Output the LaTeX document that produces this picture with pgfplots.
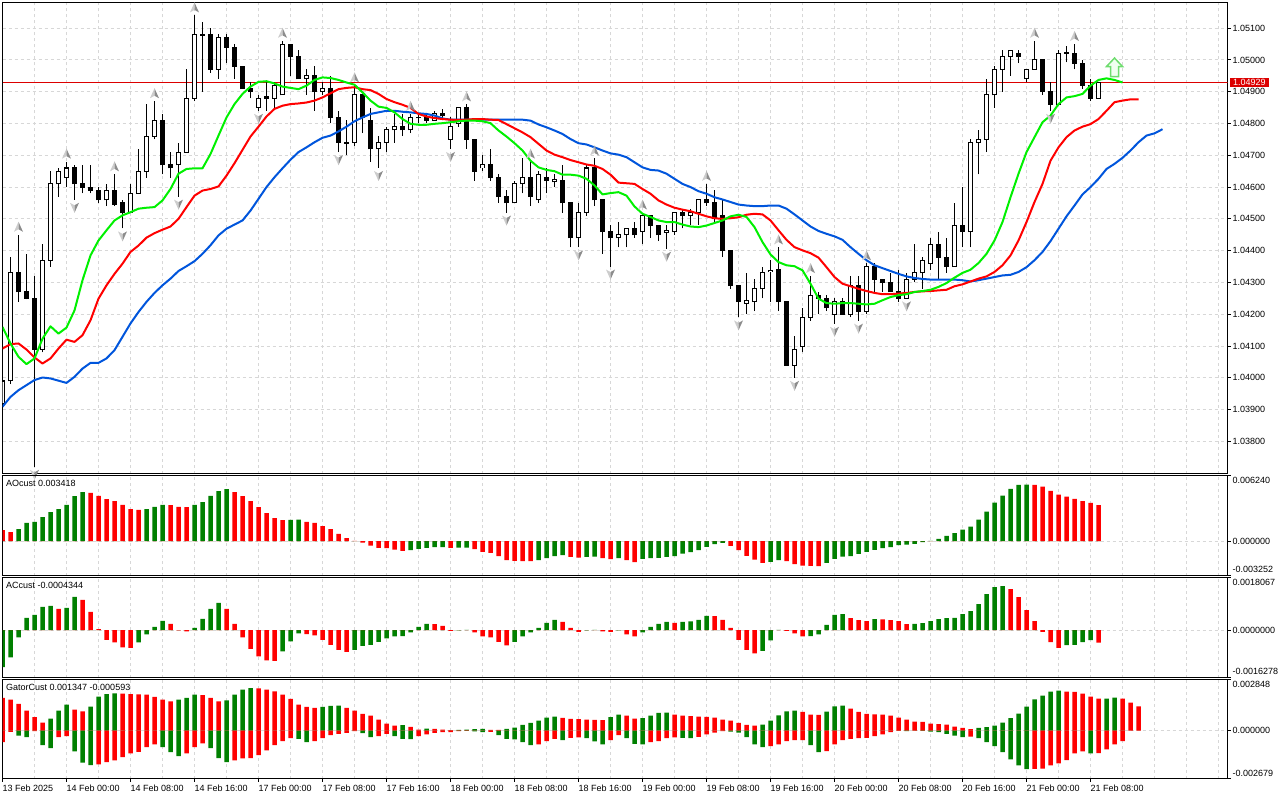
\documentclass[border=0pt]{standalone}
\usepackage{pgfplots}
\pgfplotsset{compat=1.18}
\usepackage{pgfplotstable}
\usepackage{fontspec}
\setmainfont{Liberation Sans}

\definecolor{gridc}{RGB}{215,215,215}
\definecolor{jawc}{RGB}{0,85,220}
\definecolor{teethc}{RGB}{255,0,0}
\definecolor{lipsc}{RGB}{0,240,0}
\definecolor{hgreen}{RGB}{0,128,0}
\definecolor{hred}{RGB}{255,0,0}
\definecolor{bidc}{RGB}{220,0,0}
\definecolor{fracL}{RGB}{205,205,205}
\definecolor{fracD}{RGB}{140,140,140}
\definecolor{sigline}{RGB}{110,220,110}
\definecolor{sigfill}{RGB}{240,255,240}

\newcommand{\mt}{\fontsize{9}{10.5}\selectfont}

\pgfdeclareplotmark{fup}{%
  \pgfsetfillcolor{fracL}%
  \pgfpathmoveto{\pgfqpoint{0pt}{13pt}}\pgfpathlineto{\pgfqpoint{-4.5pt}{3pt}}\pgfpathlineto{\pgfqpoint{0pt}{5.5pt}}\pgfpathclose\pgfusepathqfill
  \pgfsetfillcolor{fracD}%
  \pgfpathmoveto{\pgfqpoint{0pt}{13pt}}\pgfpathlineto{\pgfqpoint{4.5pt}{3pt}}\pgfpathlineto{\pgfqpoint{0pt}{5.5pt}}\pgfpathclose\pgfusepathqfill}
\pgfdeclareplotmark{fdn}{%
  \pgfsetfillcolor{fracL}%
  \pgfpathmoveto{\pgfqpoint{0pt}{-13pt}}\pgfpathlineto{\pgfqpoint{-4.5pt}{-3pt}}\pgfpathlineto{\pgfqpoint{0pt}{-5.5pt}}\pgfpathclose\pgfusepathqfill
  \pgfsetfillcolor{fracD}%
  \pgfpathmoveto{\pgfqpoint{0pt}{-13pt}}\pgfpathlineto{\pgfqpoint{4.5pt}{-3pt}}\pgfpathlineto{\pgfqpoint{0pt}{-5.5pt}}\pgfpathclose\pgfusepathqfill}
\pgfdeclareplotmark{sig}{%
  \pgfsetfillcolor{sigfill}\pgfsetstrokecolor{sigline}\pgfsetlinewidth{1.5pt}%
  \pgfpathmoveto{\pgfqpoint{0pt}{9.5pt}}\pgfpathlineto{\pgfqpoint{8pt}{1pt}}\pgfpathlineto{\pgfqpoint{4pt}{1pt}}%
  \pgfpathlineto{\pgfqpoint{4pt}{-9pt}}\pgfpathlineto{\pgfqpoint{-4pt}{-9pt}}\pgfpathlineto{\pgfqpoint{-4pt}{1pt}}%
  \pgfpathlineto{\pgfqpoint{-8pt}{1pt}}\pgfpathclose\pgfusepathqfillstroke}

\pgfplotsset{
  mtbase/.style={
    scale only axis, width=1225pt, xmin=0, xmax=153.125,
    scaled x ticks=false, scaled y ticks=false,
    axis line style={black, line width=1pt},
    tick style={black, line width=1pt},
    major tick length=3pt, minor tick length=0pt,
    tick align=outside,
    xtick pos=bottom, ytick pos=right, yticklabel pos=right,
    tick label style={font=\mt},
    yticklabel style={inner sep=0pt, xshift=2pt},
    grid style={gridc, line width=1pt, dash pattern=on 3pt off 3pt},
    xmajorgrids, ymajorgrids,
    xtick={0,4,...,152}, xticklabels={},
    xtick style={draw=none},
  },
  hist/.style={ybar, bar width=4.5pt, bar shift=0pt, draw=none, forget plot},
  err/.style 2 args={draw=none, mark=none, forget plot, error bars/.cd, y dir=plus, y explicit, error mark=none,
     error bar style={draw=#1, line width=#2, solid}},
}

\pgfplotstableread{
i O H L C
0 1.0392 1.0400 1.0390 1.0399
1 1.0399 1.0438 1.0398 1.0433
2 1.0433 1.0445 1.0424 1.0427
3 1.04272 1.0439 1.04247 1.04251
4 1.0425 1.0432 1.0372 1.0409
5 1.0409 1.0442 1.0408 1.0437
6 1.0437 1.0465 1.0435 1.0461
7 1.0461 1.0466 1.0457 1.0465
8 1.0463 1.0468 1.0460 1.0466
9 1.0466 1.0467 1.0456 1.0461
10 1.0461 1.0467 1.0458 1.0460
11 1.0460 1.0467 1.0458 1.0459
12 1.0459 1.0460 1.0455 1.0456
13 1.0456 1.0461 1.0454 1.0459
14 1.0459 1.0464 1.0454 1.04545
15 1.0455 1.0456 1.0447 1.0452
16 1.0452 1.0461 1.0452 1.0458
17 1.0458 1.0472 1.0458 1.0465
18 1.0465 1.0486 1.0463 1.0476
19 1.0476 1.0487 1.0475 1.0481
20 1.0481 1.0483 1.0464 1.0467
21 1.0467 1.0471 1.0463 1.0466
22 1.0467 1.0474 1.0457 1.0471
23 1.0471 1.0497 1.0471 1.0488
24 1.0488 1.0514 1.0487 1.0508
25 1.05081 1.0512 1.0490 1.05077
26 1.0508 1.0510 1.0496 1.0497
27 1.0497 1.0508 1.0494 1.0507
28 1.0507 1.0508 1.0499 1.0504
29 1.0504 1.0505 1.0494 1.0498
30 1.0498 1.0498 1.0491 1.0491
31 1.0491 1.0493 1.0488 1.0490
32 1.0485 1.0489 1.0484 1.0488
33 1.04884 1.0493 1.0484 1.04880
34 1.0488 1.0493 1.0485 1.0492
35 1.0489 1.0506 1.0489 1.0505
36 1.0505 1.0505 1.0495 1.0501
37 1.0501 1.0503 1.0494 1.0494
38 1.0494 1.0497 1.0489 1.0495
39 1.0495 1.0498 1.0484 1.0490
40 1.0490 1.0493 1.0489 1.0491
41 1.0491 1.0495 1.0480 1.0482
42 1.0482 1.0484 1.0471 1.0474
43 1.04741 1.0481 1.0470 1.04738
44 1.0474 1.0492 1.0473 1.0489
45 1.0489 1.0489 1.0477 1.0482
46 1.0481 1.0485 1.0468 1.0472
47 1.0472 1.0476 1.0466 1.0474
48 1.0474 1.0479 1.0471 1.0478
49 1.0478 1.0483 1.0474 1.0479
50 1.0479 1.0483 1.0476 1.0478
51 1.0478 1.0483 1.0477 1.0482
52 1.04820 1.0483 1.0480 1.04818
53 1.0482 1.0483 1.0480 1.0481
54 1.0481 1.0484 1.0481 1.0483
55 1.04830 1.04846 1.0481 1.04826
56 1.0475 1.0482 1.0472 1.0479
57 1.0480 1.0485 1.0479 1.0485
58 1.0485 1.0486 1.0472 1.0475
59 1.0475 1.0475 1.0462 1.0465
60 1.0466 1.0470 1.0465 1.0467
61 1.0467 1.0472 1.0462 1.0463
62 1.0463 1.0464 1.0455 1.0457
63 1.0457 1.0459 1.0452 1.0455
64 1.0455 1.0462 1.0455 1.0461
65 1.0461 1.0469 1.0458 1.0463
66 1.0463 1.0468 1.0454 1.0457
67 1.0456 1.0465 1.0455 1.0464
68 1.0463 1.0466 1.0458 1.0462
69 1.04616 1.0464 1.0460 1.04623
70 1.0462 1.0467 1.0452 1.0455
71 1.0455 1.0455 1.0441 1.0444
72 1.0444 1.0455 1.0441 1.0452
73 1.0452 1.0467 1.0451 1.0466
74 1.0466 1.0469 1.0454 1.0456
75 1.0456 1.0456 1.0439 1.0446
76 1.0446 1.0448 1.0435 1.0444
77 1.0444 1.0449 1.0441 1.0445
78 1.0445 1.0447 1.0441 1.0447
79 1.0447 1.0449 1.0444 1.0445
80 1.0446 1.0452 1.0442 1.0451
81 1.0451 1.0451 1.0444 1.0448
82 1.0448 1.0448 1.0443 1.0445
83 1.04458 1.0448 1.04406 1.04464
84 1.0446 1.0452 1.0445 1.0452
85 1.0452 1.0453 1.0447 1.0451
86 1.0451 1.0453 1.0448 1.0452
87 1.0452 1.0456 1.0448 1.0456
88 1.0456 1.0461 1.0454 1.0455
89 1.0455 1.0459 1.0449 1.0450
90 1.0451 1.0456 1.0438 1.0440
91 1.0440 1.0440 1.0428 1.0429
92 1.0429 1.0429 1.0419 1.0424
93 1.04235 1.0433 1.0420 1.04244
94 1.0424 1.0431 1.0421 1.0428
95 1.0428 1.0435 1.0425 1.0433
96 1.04335 1.0437 1.0424 1.04339
97 1.0434 1.0441 1.0421 1.0424
98 1.0424 1.0424 1.0404 1.0404
99 1.0404 1.0413 1.0400 1.0409
100 1.0410 1.0422 1.0408 1.0419
101 1.0419 1.0432 1.0418 1.0426
102 1.0426 1.0427 1.0420 1.0425
103 1.0425 1.0426 1.0421 1.0422
104 1.0420 1.0425 1.0417 1.0424
105 1.0424 1.0425 1.0420 1.0420
106 1.0420 1.0432 1.0419 1.0429
107 1.0429 1.0432 1.0418 1.0421
108 1.0421 1.0436 1.0420 1.0435
109 1.0435 1.0436 1.0427 1.0431
110 1.0431 1.0431 1.0427 1.0430
111 1.0430 1.0433 1.0427 1.0427
112 1.0427 1.0434 1.0424 1.0425
113 1.0425 1.0433 1.0425 1.0431
114 1.0431 1.0442 1.0430 1.0433
115 1.0433 1.0438 1.0428 1.0437
116 1.0436 1.0444 1.0434 1.0442
117 1.0442 1.0446 1.0431 1.0438
118 1.0438 1.0444 1.0433 1.0435
119 1.0435 1.0455 1.0435 1.0448
120 1.0448 1.0460 1.0441 1.0446
121 1.0446 1.0475 1.0441 1.0474
122 1.0474 1.0478 1.0464 1.0475
123 1.0475 1.0494 1.0471 1.0489
124 1.0489 1.0498 1.0485 1.0497
125 1.0497 1.0503 1.0490 1.0501
126 1.0501 1.0503 1.0495 1.0503
127 1.0502 1.0503 1.0499 1.0501
128 1.0494 1.0497 1.0493 1.0497
129 1.0497 1.0506 1.0497 1.0500
130 1.0500 1.0500 1.0489 1.0490
131 1.0490 1.0493 1.0484 1.0486
132 1.0486 1.0503 1.0486 1.0502
133 1.05021 1.05045 1.04992 1.05023
134 1.0502 1.0505 1.0497 1.0499
135 1.0499 1.0500 1.0491 1.0492
136 1.0492 1.0494 1.0487 1.0488
137 1.0488 1.0493 1.0488 1.04929
}\candles

\pgfplotstableread{
i v
0 1.03909
1 1.03940
2 1.03961
3 1.03977
4 1.03993
5 1.04001
6 1.03998
7 1.03991
8 1.03984
9 1.04003
10 1.04029
11 1.04047
12 1.04047
13 1.04061
14 1.04087
15 1.04129
16 1.04171
17 1.04207
18 1.04239
19 1.04267
20 1.04291
21 1.04312
22 1.04336
23 1.04351
24 1.04367
25 1.04390
26 1.04417
27 1.04448
28 1.04469
29 1.04482
30 1.04495
31 1.04526
32 1.04563
33 1.04600
34 1.04631
35 1.04659
36 1.04686
37 1.04710
38 1.04725
39 1.04741
40 1.04755
41 1.04762
42 1.04775
43 1.04790
44 1.04807
45 1.04819
46 1.04830
47 1.04835
48 1.04840
49 1.04840
50 1.04837
51 1.04835
52 1.04832
53 1.04830
54 1.04825
55 1.04816
56 1.04812
57 1.04812
58 1.04812
59 1.04812
60 1.04812
61 1.04812
62 1.04812
63 1.04812
64 1.04812
65 1.04812
66 1.04809
67 1.04797
68 1.04788
69 1.04778
70 1.04767
71 1.04751
72 1.04738
73 1.04734
74 1.04725
75 1.04715
76 1.04706
77 1.04702
78 1.04694
79 1.04678
80 1.04662
81 1.04654
82 1.04652
83 1.04642
84 1.04626
85 1.04610
86 1.04600
87 1.04587
88 1.04579
89 1.04568
90 1.04561
91 1.04553
92 1.04545
93 1.04542
94 1.04540
95 1.04540
96 1.04542
97 1.04542
98 1.04532
99 1.04514
100 1.04495
101 1.04476
102 1.04462
103 1.04453
104 1.04445
105 1.04434
106 1.04411
107 1.04390
108 1.04370
109 1.04354
110 1.04345
111 1.04336
112 1.04327
113 1.04319
114 1.04314
115 1.04311
116 1.04309
117 1.04309
118 1.04309
119 1.04309
120 1.04307
121 1.04303
122 1.04307
123 1.04312
124 1.04317
125 1.04322
126 1.04324
127 1.04333
128 1.04348
129 1.04370
130 1.04396
131 1.04430
132 1.04469
133 1.04508
134 1.04542
135 1.04577
136 1.04600
137 1.04626
138 1.04657
139 1.04673
140 1.04692
141 1.04715
142 1.04741
143 1.04762
144 1.04769
145 1.04782
}\jaw

\pgfplotstableread{
i v
0 1.04092
1 1.04106
2 1.04108
3 1.04089
4 1.04064
5 1.04045
6 1.04061
7 1.04092
8 1.04120
9 1.04113
10 1.04134
11 1.04181
12 1.04249
13 1.04291
14 1.04327
15 1.04359
16 1.04396
17 1.04416
18 1.04441
19 1.04455
20 1.04466
21 1.04476
22 1.04500
23 1.04537
24 1.04573
25 1.04589
26 1.04594
27 1.04602
28 1.04636
29 1.04675
30 1.04717
31 1.04759
32 1.04790
33 1.04822
34 1.04846
35 1.04856
36 1.04861
37 1.04863
38 1.04866
39 1.04872
40 1.04882
41 1.04895
42 1.04908
43 1.04912
44 1.04914
45 1.04908
46 1.04905
47 1.04893
48 1.04877
49 1.04867
50 1.04859
51 1.04849
52 1.04830
53 1.04822
54 1.04817
55 1.04814
56 1.04812
57 1.04811
58 1.04812
59 1.04814
60 1.04814
61 1.04812
62 1.04811
63 1.04798
64 1.04785
65 1.04772
66 1.04757
67 1.04736
68 1.04715
69 1.04702
70 1.04694
71 1.04685
72 1.04678
73 1.04671
74 1.04667
75 1.04657
76 1.04639
77 1.04614
78 1.04612
79 1.04610
80 1.04594
81 1.04579
82 1.04558
83 1.04545
84 1.04535
85 1.04529
86 1.04524
87 1.04516
88 1.04508
89 1.04502
90 1.04500
91 1.04502
92 1.04505
93 1.04513
94 1.04516
95 1.04514
96 1.04495
97 1.04464
98 1.04434
99 1.04411
100 1.04401
101 1.04392
102 1.04378
103 1.04348
104 1.04317
105 1.04296
106 1.04288
107 1.04280
108 1.04273
109 1.04267
110 1.04263
111 1.04263
112 1.04265
113 1.04267
114 1.04270
115 1.04272
116 1.04273
117 1.04275
118 1.04277
119 1.04288
120 1.04294
121 1.04303
122 1.04312
123 1.04319
124 1.04333
125 1.04354
126 1.04385
127 1.04432
128 1.04490
129 1.04553
130 1.04610
131 1.04683
132 1.04725
133 1.04757
134 1.04778
135 1.04790
136 1.04798
137 1.04814
138 1.04840
139 1.04867
140 1.04872
141 1.04876
142 1.04876
}\teeth

\pgfplotstableread{
i v
0 1.04160
1 1.04108
2 1.04066
3 1.04043
4 1.04061
5 1.04123
6 1.04162
7 1.04139
8 1.04158
9 1.04212
10 1.04307
11 1.04385
12 1.04432
13 1.04464
14 1.04495
15 1.04511
16 1.04521
17 1.04532
18 1.04535
19 1.04537
20 1.04558
21 1.04594
22 1.04642
23 1.04657
24 1.04659
25 1.04659
26 1.04704
27 1.04762
28 1.04819
29 1.04861
30 1.04893
31 1.04916
32 1.04931
33 1.04933
34 1.04926
35 1.04916
36 1.04912
37 1.04908
38 1.04919
39 1.04937
40 1.04945
41 1.04943
42 1.04937
43 1.04929
44 1.04922
45 1.04898
46 1.04872
47 1.04853
48 1.04849
49 1.04835
50 1.04814
51 1.04799
52 1.04796
53 1.04796
54 1.04799
55 1.04801
56 1.04804
57 1.04807
58 1.04809
59 1.04809
60 1.04807
61 1.04801
62 1.04778
63 1.04759
64 1.04738
65 1.04715
66 1.04683
67 1.04662
68 1.04654
69 1.04650
70 1.04639
71 1.04639
72 1.04636
73 1.04626
74 1.04605
75 1.04577
76 1.04581
77 1.04584
78 1.04573
79 1.04539
80 1.04516
81 1.04506
82 1.04495
83 1.04490
84 1.04490
85 1.04482
86 1.04476
87 1.04474
88 1.04479
89 1.04487
90 1.04495
91 1.04508
92 1.04513
93 1.04506
94 1.04474
95 1.04427
96 1.04388
97 1.04364
98 1.04354
99 1.04351
100 1.04338
101 1.04296
102 1.04249
103 1.04235
104 1.04233
105 1.04235
106 1.04235
107 1.04233
108 1.04231
109 1.04233
110 1.04244
111 1.04254
112 1.04260
113 1.04263
114 1.04270
115 1.04273
116 1.04277
117 1.04286
118 1.04298
119 1.04315
120 1.04330
121 1.04340
122 1.04361
123 1.04390
124 1.04432
125 1.04490
126 1.04568
127 1.04642
128 1.04710
129 1.04757
130 1.04804
131 1.04825
132 1.04861
133 1.04882
134 1.04886
135 1.04893
136 1.04919
137 1.04937
138 1.04942
139 1.04937
140 1.04929
}\lips

\pgfplotstableread{
i v
2 1.0445
8 1.0468
14 1.0464
19 1.0487
24 1.0514
35 1.0506
44 1.0492
51 1.0483
58 1.0486
66 1.0468
74 1.0469
80 1.0452
88 1.0461
97 1.0441
101 1.0432
108 1.0436
129 1.0506
134 1.0505
}\fracup

\pgfplotstableread{
i v
4 1.0372
9 1.0456
15 1.0447
22 1.0457
32 1.0484
42 1.0471
47 1.0466
56 1.0472
63 1.0452
72 1.0441
76 1.0435
83 1.04406
92 1.0419
99 1.0400
104 1.0417
107 1.0418
113 1.0425
131 1.0484
}\fracdn

\pgfplotstableread{
i v
0 1.04929
153.125 1.04929
}\bid

\pgfplotstableread{
i v c
0 0.001044 0
1 0.000854 0
2 0.001139 1
3 0.001740 1
4 0.001835 1
5 0.002278 1
6 0.002753 1
7 0.003037 1
8 0.003449 1
9 0.004271 1
10 0.004651 1
11 0.004588 0
12 0.004303 0
13 0.003987 0
14 0.003797 0
15 0.003449 0
16 0.003037 0
17 0.002974 0
18 0.003037 1
19 0.003259 1
20 0.003449 1
21 0.003417 0
22 0.003259 0
23 0.003227 0
24 0.003449 1
25 0.003702 1
26 0.004303 1
27 0.004746 1
28 0.004936 1
29 0.004651 0
30 0.004271 0
31 0.003797 0
32 0.003227 0
33 0.002658 0
34 0.002183 0
35 0.001993 0
36 0.002025 1
37 0.002057 1
38 0.001835 0
39 0.001740 0
40 0.001424 0
41 0.001139 0
42 0.000696 0
43 0.000285 0
44 0.000032 0
45 -0.000127 0
46 -0.000411 0
47 -0.000633 0
48 -0.000664 0
49 -0.000791 0
50 -0.000918 0
51 -0.000854 1
52 -0.000728 1
53 -0.000633 1
54 -0.000570 1
55 -0.000554 1
56 -0.000633 0
57 -0.000617 1
58 -0.000601 1
59 -0.000759 0
60 -0.001012 0
61 -0.001107 0
62 -0.001424 0
63 -0.001803 0
64 -0.001867 0
65 -0.001883 0
66 -0.001898 0
67 -0.001803 1
68 -0.001614 1
69 -0.001424 1
70 -0.001329 1
71 -0.001487 0
72 -0.001550 0
73 -0.001487 1
74 -0.001471 1
75 -0.001614 0
76 -0.001709 0
77 -0.001614 1
78 -0.001803 0
79 -0.001993 0
80 -0.001677 1
81 -0.001614 1
82 -0.001582 1
83 -0.001487 1
84 -0.001424 1
85 -0.001171 1
86 -0.001044 1
87 -0.000854 1
88 -0.000538 1
89 -0.000285 1
90 -0.000158 1
91 -0.000443 0
92 -0.000854 0
93 -0.001392 0
94 -0.001740 0
95 -0.002057 0
96 -0.001962 1
97 -0.001803 1
98 -0.001898 0
99 -0.002183 0
100 -0.002310 0
101 -0.002341 0
102 -0.002373 0
103 -0.002057 1
104 -0.001677 1
105 -0.001455 1
106 -0.001424 1
107 -0.001202 1
108 -0.001012 1
109 -0.000823 1
110 -0.000664 1
111 -0.000570 1
112 -0.000380 1
113 -0.000316 1
114 -0.000253 1
115 -0.000095 1
116 0.000032 1
117 0.000221 1
118 0.000506 1
119 0.000759 1
120 0.001107 1
121 0.001392 1
122 0.002057 1
123 0.002816 1
124 0.003670 1
125 0.004335 1
126 0.004967 1
127 0.005347 1
128 0.005363 1
129 0.005347 0
130 0.005189 0
131 0.004778 0
132 0.004430 0
133 0.004240 0
134 0.004018 0
135 0.003797 0
136 0.003639 0
137 0.003418 0
}\ao

\pgfplotstableread{
i v c
0 -0.001271 1
1 -0.000939 1
2 -0.000252 1
3 0.000424 1
4 0.000527 1
5 0.000801 1
6 0.000836 1
7 0.000733 0
8 0.000767 1
9 0.001145 1
10 0.001042 0
11 0.000630 0
12 0.000034 0
13 -0.000332 0
14 -0.000424 0
15 -0.000595 0
16 -0.000607 0
17 -0.000424 1
18 -0.000149 1
19 0.000114 1
20 0.000321 1
21 0.000218 0
22 -0.000011 0
23 -0.000046 0
24 0.000080 1
25 0.000389 1
26 0.000733 1
27 0.000939 1
28 0.000733 0
29 0.000218 0
30 -0.000252 0
31 -0.000641 0
32 -0.000904 0
33 -0.001042 0
34 -0.001053 0
35 -0.000733 1
36 -0.000389 1
37 -0.000114 1
38 -0.000137 0
39 -0.000183 0
40 -0.000332 0
41 -0.000504 0
42 -0.000675 0
43 -0.000744 0
44 -0.000675 1
45 -0.000538 1
46 -0.000504 1
47 -0.000401 1
48 -0.000286 1
49 -0.000218 1
50 -0.000206 1
51 -0.000080 1
52 0.000114 1
53 0.000218 1
54 0.000206 0
55 0.000149 0
56 -0.000023 0
57 -0.000011 1
58 0.000006 1
59 -0.000080 0
60 -0.000218 0
61 -0.000252 0
62 -0.000401 0
63 -0.000527 0
64 -0.000401 1
65 -0.000218 1
66 -0.000080 1
67 0.000080 1
68 0.000252 1
69 0.000355 1
70 0.000286 0
71 0.000080 0
72 -0.000057 0
73 -0.000011 1
74 0.000011 1
75 -0.000046 0
76 -0.000057 0
77 -0.000011 1
78 -0.000149 0
79 -0.000218 0
80 -0.000080 1
81 0.000114 1
82 0.000218 1
83 0.000286 1
84 0.000252 0
85 0.000286 1
86 0.000298 1
87 0.000355 1
88 0.000492 1
89 0.000481 0
90 0.000355 0
91 0.000080 0
92 -0.000332 0
93 -0.000675 0
94 -0.000801 0
95 -0.000710 1
96 -0.000355 1
97 0.000011 1
98 -0.000023 0
99 -0.000114 0
100 -0.000218 0
101 -0.000206 1
102 -0.000149 1
103 0.000183 1
104 0.000527 1
105 0.000550 1
106 0.000412 0
107 0.000343 0
108 0.000309 0
109 0.000378 1
110 0.000366 0
111 0.000343 0
112 0.000309 0
113 0.000206 0
114 0.000218 1
115 0.000240 1
116 0.000309 1
117 0.000378 1
118 0.000412 1
119 0.000424 1
120 0.000550 1
121 0.000653 1
122 0.000893 1
123 0.001236 1
124 0.001477 1
125 0.001511 1
126 0.001408 0
127 0.001133 0
128 0.000687 0
129 0.000309 0
130 -0.000057 0
131 -0.000412 0
132 -0.000607 0
133 -0.000515 1
134 -0.000504 1
135 -0.000412 1
136 -0.000343 1
137 -0.000434 0
}\ac

\pgfplotstableread{
i v c
0 0.001816 0
1 0.001723 0
2 0.001482 0
3 0.001112 0
4 0.000741 0
5 0.000445 0
6 0.000667 1
7 0.001112 1
8 0.001445 1
9 0.001167 0
10 0.001075 0
11 0.001334 1
12 0.001890 1
13 0.002038 1
14 0.002075 1
15 0.002057 0
16 0.002038 0
17 0.002020 0
18 0.002001 0
19 0.001872 0
20 0.001723 0
21 0.001631 0
22 0.001723 1
23 0.001816 1
24 0.002001 1
25 0.001983 0
26 0.001816 0
27 0.001631 0
28 0.001686 1
29 0.002001 1
30 0.002279 1
31 0.002372 1
32 0.002353 0
33 0.002279 0
34 0.002187 0
35 0.002001 0
36 0.001760 0
37 0.001445 0
38 0.001316 0
39 0.001260 0
40 0.001316 1
41 0.001371 1
42 0.001390 1
43 0.001260 0
44 0.001112 0
45 0.000927 0
46 0.000834 0
47 0.000611 0
48 0.000389 0
49 0.000278 0
50 0.000296 1
51 0.000204 0
52 0.000056 0
53 0.000111 1
54 0.000093 0
55 0.000056 0
56 0.000019 0
57 0.000037 1
58 0.000056 1
59 0.000074 1
60 0.000093 1
61 0.000037 0
62 0.000030 0
63 0.000093 1
64 0.000167 1
65 0.000315 1
66 0.000426 1
67 0.000556 1
68 0.000723 1
69 0.000778 1
70 0.000704 0
71 0.000649 0
72 0.000630 0
73 0.000611 0
74 0.000593 0
75 0.000574 0
76 0.000741 1
77 0.000889 1
78 0.000834 0
79 0.000667 0
80 0.000686 1
81 0.000834 1
82 0.000982 1
83 0.001001 1
84 0.000889 0
85 0.000834 0
86 0.000797 0
87 0.000778 0
88 0.000760 0
89 0.000723 0
90 0.000611 0
91 0.000556 0
92 0.000426 0
93 0.000315 0
94 0.000278 0
95 0.000334 1
96 0.000556 1
97 0.000852 1
98 0.001075 1
99 0.001112 1
100 0.001038 0
101 0.000889 0
102 0.000871 0
103 0.001056 1
104 0.001353 1
105 0.001390 1
106 0.001223 0
107 0.001038 0
108 0.000927 0
109 0.000908 0
110 0.000889 0
111 0.000834 0
112 0.000723 0
113 0.000611 0
114 0.000500 0
115 0.000482 0
116 0.000389 0
117 0.000352 0
118 0.000334 0
119 0.000222 0
120 0.000148 0
121 0.000074 0
122 0.000148 1
123 0.000185 1
124 0.000278 1
125 0.000445 1
126 0.000686 1
127 0.000945 1
128 0.001334 1
129 0.001742 1
130 0.001946 1
131 0.002168 1
132 0.002224 1
133 0.002168 0
134 0.002160 0
135 0.002057 0
136 0.001890 0
137 0.001779 0
138 0.001785 1
139 0.001835 1
140 0.001779 0
141 0.001557 0
142 0.001347 0
}\gup

\pgfplotstableread{
i v c
0 -0.000649 0
1 -0.000074 0
2 -0.000278 1
3 -0.000371 1
4 -0.000037 0
5 -0.000815 1
6 -0.000982 1
7 -0.000371 0
8 -0.000315 0
9 -0.001167 1
10 -0.001797 1
11 -0.001927 1
12 -0.001890 0
13 -0.001760 0
14 -0.001668 0
15 -0.001482 0
16 -0.001279 0
17 -0.001186 0
18 -0.000927 0
19 -0.000778 0
20 -0.000927 1
21 -0.001204 1
22 -0.001427 1
23 -0.001279 0
24 -0.000927 0
25 -0.000723 0
26 -0.000982 1
27 -0.001538 1
28 -0.001760 1
29 -0.001668 0
30 -0.001557 0
31 -0.001538 0
32 -0.001371 0
33 -0.001112 0
34 -0.000815 0
35 -0.000593 0
36 -0.000426 0
37 -0.000463 1
38 -0.000649 1
39 -0.000593 0
40 -0.000426 0
41 -0.000259 0
42 -0.000185 0
43 -0.000130 0
44 -0.000037 0
45 -0.000148 1
46 -0.000371 1
47 -0.000315 0
48 -0.000185 0
49 -0.000315 1
50 -0.000463 1
51 -0.000482 1
52 -0.000315 0
53 -0.000222 0
54 -0.000130 0
55 -0.000093 0
56 -0.000090 0
57 -0.000037 0
58 -0.000019 0
59 -0.000041 1
60 -0.000093 1
61 -0.000074 0
62 -0.000259 1
63 -0.000463 1
64 -0.000500 1
65 -0.000649 1
66 -0.000815 1
67 -0.000778 0
68 -0.000593 0
69 -0.000463 0
70 -0.000537 1
71 -0.000408 0
72 -0.000389 0
73 -0.000426 1
74 -0.000611 1
75 -0.000778 1
76 -0.000537 0
77 -0.000259 0
78 -0.000426 1
79 -0.000741 1
80 -0.000778 1
81 -0.000649 0
82 -0.000593 0
83 -0.000426 0
84 -0.000389 0
85 -0.000408 1
86 -0.000426 1
87 -0.000352 0
88 -0.000222 0
89 -0.000111 0
90 -0.000037 0
91 -0.000056 1
92 -0.000111 1
93 -0.000371 1
94 -0.000778 1
95 -0.000927 1
96 -0.000871 0
97 -0.000778 0
98 -0.000593 0
99 -0.000537 0
100 -0.000530 0
101 -0.000815 1
102 -0.001204 1
103 -0.001149 0
104 -0.000778 0
105 -0.000537 0
106 -0.000463 0
107 -0.000426 0
108 -0.000408 0
109 -0.000315 0
110 -0.000222 0
111 -0.000093 0
112 -0.000019 0
113 -0.000037 1
114 -0.000009 0
115 -0.000019 1
116 -0.000056 1
117 -0.000093 1
118 -0.000185 1
119 -0.000278 1
120 -0.000371 1
121 -0.000334 0
122 -0.000426 1
123 -0.000649 1
124 -0.000871 1
125 -0.001204 1
126 -0.001612 1
127 -0.001946 1
128 -0.002150 1
129 -0.002140 0
130 -0.002129 0
131 -0.001946 0
132 -0.001835 0
133 -0.001651 0
134 -0.001279 0
135 -0.001168 0
136 -0.001279 1
137 -0.001268 0
138 -0.001056 0
139 -0.000778 0
140 -0.000593 0
}\gdn

\begin{document}
\begin{tikzpicture}
\useasboundingbox (0pt,0pt) rectangle (1280pt,-800pt);

% ---------------- main price panel ----------------
\begin{axis}[mtbase, at={(2.5pt,-2.5pt)}, anchor=north west, height=471pt,
  clip mode=individual,
  ymin=1.03699, ymax=1.051806,
  ytick={1.038,1.039,1.040,1.041,1.042,1.043,1.044,1.045,1.046,1.047,1.048,1.049,1.050,1.051},
  yticklabels={1.03800,1.03900,1.04000,1.04100,1.04200,1.04300,1.04400,1.04500,1.04600,1.04700,1.04800,1.04900,1.05000,1.05100},
]
\addplot[draw=bidc, line width=1pt, mark=none, forget plot] table[x=i, y=v] {\bid};
\addplot[err={black}{1pt}] table[x=i, y=L, y error plus expr=\thisrow{H}-\thisrow{L}] {\candles};
\addplot[err={black}{5pt}] table[x=i, y expr={min(\thisrow{O},\thisrow{C})-0.0000157}, y error plus expr={abs(\thisrow{C}-\thisrow{O})+0.0000314}] {\candles};
\addplot[err={white}{3pt}] table[x=i, y expr={\thisrow{O}+0.0000157}, y error plus expr={max(\thisrow{C}-\thisrow{O}-0.0000314,0)}] {\candles};
\addplot[jawc, line width=2pt, line join=round, mark=none] table[x=i, y=v] {\jaw};
\addplot[teethc, line width=2pt, line join=round, mark=none] table[x=i, y=v] {\teeth};
\addplot[lipsc, line width=2pt, line join=round, mark=none] table[x=i, y=v] {\lips};
\addplot[only marks, mark=fup] table[x=i, y=v] {\fracup};
\addplot[only marks, mark=fdn] table[x=i, y=v] {\fracdn};
\addplot[only marks, mark=sig] coordinates {(139,1.04976)};
\node[anchor=west, fill=bidc, text=white, font=\mt, inner xsep=3pt, inner ysep=1.5pt, xshift=2.5pt] at (axis cs:153.125,1.04929) {1.04929};
\end{axis}

% ---------------- AO panel ----------------
\begin{axis}[mtbase, at={(2.5pt,-475.5pt)}, anchor=north west, height=100pt,
  ymin=-0.003252, ymax=0.006240,
  ytick={-0.003252,0,0.00624},
  yticklabels={\raisebox{6.2pt}[\height][\depth]{-0.003252},0.000000,\raisebox{-5.2pt}[\height][\depth]{0.006240}},
]
\addplot[hist, fill=hgreen] table[x=i, y expr={\thisrow{c}>0.5 ? \thisrow{v} : 0}] {\ao};
\addplot[hist, fill=hred] table[x=i, y expr={\thisrow{c}<0.5 ? \thisrow{v} : 0}] {\ao};
\node[anchor=north west, inner sep=0pt, font=\mt, xshift=3.5pt, yshift=-4.5pt] at (rel axis cs:0,1) {AOcust 0.003418};
\end{axis}

% ---------------- AC panel ----------------
\begin{axis}[mtbase, at={(2.5pt,-577.5pt)}, anchor=north west, height=100pt,
  ymin=-0.0016278, ymax=0.0018067,
  ytick={-0.0016278,0,0.0018067},
  yticklabels={\raisebox{6.2pt}[\height][\depth]{-0.0016278},0.0000000,\raisebox{-4.8pt}[\height][\depth]{0.0018067}},
]
\addplot[hist, fill=hgreen] table[x=i, y expr={\thisrow{c}>0.5 ? \thisrow{v} : 0}] {\ac};
\addplot[hist, fill=hred] table[x=i, y expr={\thisrow{c}<0.5 ? \thisrow{v} : 0}] {\ac};
\node[anchor=north west, inner sep=0pt, font=\mt, xshift=3.5pt, yshift=-4.5pt] at (rel axis cs:0,1) {ACcust -0.0004344};
\end{axis}

% ---------------- Gator panel ----------------
\begin{axis}[mtbase, at={(2.5pt,-679.5pt)}, anchor=north west, height=99pt,
  ymin=-0.002679, ymax=0.002848,
  ytick={-0.002679,0,0.002848},
  yticklabels={\raisebox{5.2pt}[\height][\depth]{-0.002679},0.000000,\raisebox{-4.8pt}[\height][\depth]{0.002848}},
  xtick={0,8,...,136},
  xticklabels={13 Feb 2025,14 Feb 00:00,14 Feb 08:00,14 Feb 16:00,17 Feb 00:00,17 Feb 08:00,17 Feb 16:00,18 Feb 00:00,18 Feb 08:00,18 Feb 16:00,19 Feb 00:00,19 Feb 08:00,19 Feb 16:00,20 Feb 00:00,20 Feb 08:00,20 Feb 16:00,21 Feb 00:00,21 Feb 08:00},
  minor xtick={4,12,20,28,36,44,52,60,68,76,84,92,100,108,116,124,132,140,144,148,152},
  xminorgrids,
  xtick style={draw=black},
  xticklabel style={anchor=north west, inner sep=0pt, yshift=-3pt},
]
\addplot[hist, fill=hgreen] table[x=i, y expr={\thisrow{c}>0.5 ? \thisrow{v} : 0}] {\gup};
\addplot[hist, fill=hred] table[x=i, y expr={\thisrow{c}<0.5 ? \thisrow{v} : 0}] {\gup};
\addplot[hist, fill=hgreen] table[x=i, y expr={\thisrow{c}>0.5 ? \thisrow{v} : 0}] {\gdn};
\addplot[hist, fill=hred] table[x=i, y expr={\thisrow{c}<0.5 ? \thisrow{v} : 0}] {\gdn};
\node[anchor=north west, inner sep=0pt, font=\mt, xshift=3.5pt, yshift=-4.5pt] at (rel axis cs:0,1) {GatorCust 0.001347 -0.000593};
\end{axis}
\end{tikzpicture}
\end{document}
